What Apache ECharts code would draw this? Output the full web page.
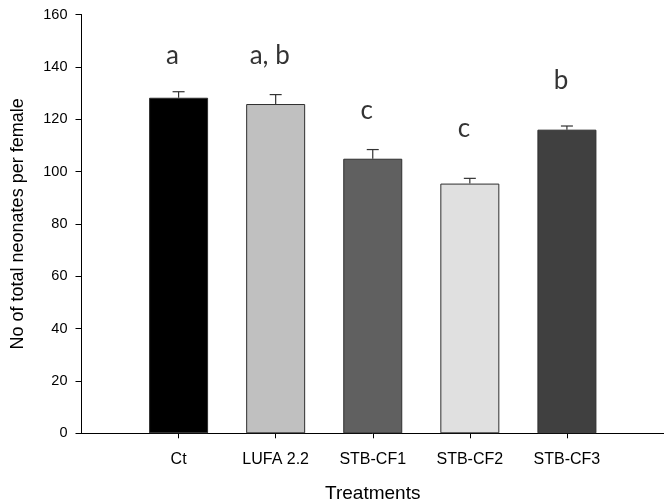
<!DOCTYPE html>
<html>
<head>
<meta charset="utf-8">
<script src="https://cdn.jsdelivr.net/npm/echarts@6/dist/echarts.min.js"></script>
<style>
html,body{margin:0;padding:0;background:#fff;}
#chart{width:664px;height:503px;}
</style>
</head>
<body>
<div id="chart"></div>
<script>
var categories = ['Ct', 'LUFA 2.2', 'STB-CF1', 'STB-CF2', 'STB-CF3'];
var means = [128.2, 125.8, 104.9, 95.4, 116.0];
var errors = [2.3, 3.6, 3.5, 2.0, 1.4];
var letters = ['a', 'a, b', 'c', 'c', 'b'];
var letterHeights = [144.3, 144.3, 123.4, 116.5, 134.7];
var barColors = ['#000000', '#c0c0c0', '#606060', '#e0e0e0', '#404040'];
var yTicks = [0, 20, 40, 60, 80, 100, 120, 140, 160];

var axisCats = [''].concat(categories).concat(['']);
var font = "'Liberation Sans', Arial, sans-serif";

var barData = [null];
categories.forEach(function (c, i) {
  barData.push({ value: means[i], itemStyle: { color: barColors[i] } });
});
barData.push(null);

var errData = categories.map(function (c, i) { return [i + 1, means[i], means[i] + errors[i]]; });
var letterData = categories.map(function (c, i) { return { value: [i + 1, letterHeights[i]], label: { formatter: letters[i] } }; });

var chart = echarts.init(document.getElementById('chart'));
chart.setOption({
  animation: false,
  backgroundColor: '#fff',
  grid: { left: 81.5, right: 0, top: 14.5, bottom: 69.7, containLabel: false, outerBoundsMode: 'none' },
  xAxis: {
    type: 'category',
    data: axisCats,
    boundaryGap: false,
    name: 'Treatments',
    nameLocation: 'middle',
    nameGap: 51,
    nameTextStyle: { fontFamily: font, fontSize: 19, color: '#000' },
    axisLine: { lineStyle: { color: '#000', width: 1 } },
    axisTick: { length: 5, lineStyle: { color: '#000' }, interval: function (idx) { return idx > 0 && idx < 6; } },
    axisLabel: { margin: 18, fontFamily: font, fontSize: 16, color: '#000', interval: 0 },
    splitLine: { show: false }
  },
  yAxis: {
    type: 'value',
    min: yTicks[0],
    max: yTicks[yTicks.length - 1],
    interval: 20,
    name: 'No of total neonates per female',
    nameLocation: 'middle',
    nameGap: 54,
    nameTextStyle: { fontFamily: font, fontSize: 18, color: '#000' },
    axisLine: { show: true, lineStyle: { color: '#000', width: 1 } },
    axisTick: { show: true, length: 6, lineStyle: { color: '#000' } },
    axisLabel: { margin: 14, fontFamily: font, fontSize: 14.5, color: '#000' },
    splitLine: { show: false }
  },
  series: [
    {
      type: 'bar',
      data: barData,
      barWidth: 59,
      itemStyle: { borderColor: '#2e2e2e', borderWidth: 1 },
      z: 2
    },
    {
      type: 'custom',
      data: errData,
      z: 3,
      renderItem: function (params, api) {
        var x = api.value(0);
        var lo = api.coord([x, api.value(1)]);
        var hi = api.coord([x, api.value(2)]);
        var hw = 6;
        return {
          type: 'group',
          children: [
            { type: 'line', shape: { x1: lo[0], y1: lo[1], x2: hi[0], y2: hi[1] }, style: { stroke: '#333', lineWidth: 1.2 } },
            { type: 'line', shape: { x1: hi[0] - hw, y1: hi[1], x2: hi[0] + hw, y2: hi[1] }, style: { stroke: '#333', lineWidth: 1.2 } }
          ]
        };
      }
    },
    {
      type: 'scatter',
      data: letterData,
      symbolSize: 0,
      silent: true,
      label: { show: true, position: 'inside', offset: [-6, 0], fontFamily: 'Lato, sans-serif', fontSize: 26, color: '#000' }
    }
  ]
});
</script>
</body>
</html>
